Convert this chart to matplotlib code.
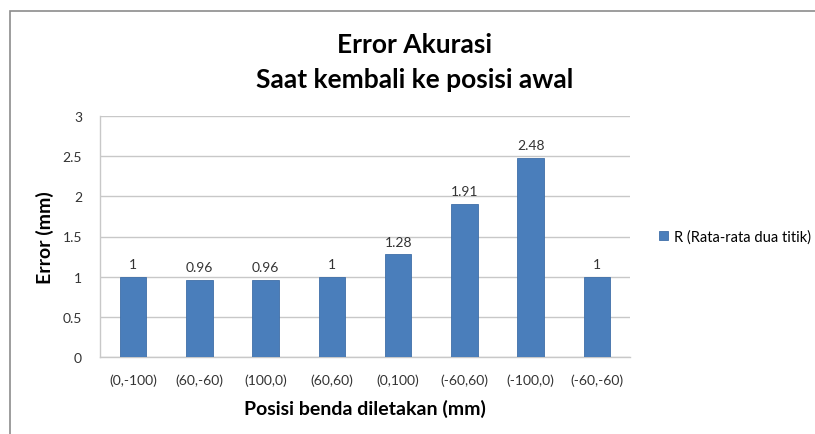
import matplotlib.pyplot as plt
from matplotlib.patches import Rectangle

positions = ['(0,-100)', '(60,-60)', '(100,0)', '(60,60)', '(0,100)', '(-60,60)', '(-100,0)', '(-60,-60)']
errors = [1, 0.96, 0.96, 1, 1.28, 1.91, 2.48, 1]
value_labels = ['1', '0.96', '0.96', '1', '1.28', '1.91', '2.48', '1']
series_name = 'R (Rata-rata dua titik)'

plt.rcParams['font.family'] = ['Lato', 'DejaVu Sans']

fig = plt.figure(figsize=(8.15, 4.35), dpi=100)
ax = fig.add_axes([100/815, 1 - 358/435, 530/815, 241/435])

# chart border like the spreadsheet frame
fig.patches.append(Rectangle((10/815, -0.01), 1.0, 1 - 12/435 + 0.01,
                             transform=fig.transFigure, fill=False,
                             edgecolor='#8c8c8c', linewidth=1.2))

x = range(len(positions))
bars = ax.bar(x, errors, width=0.4, color='#4a7ebb', edgecolor='#3f6fa8',
              linewidth=0.6, label=series_name, zorder=3)
for rect, lab in zip(bars, value_labels):
    ax.text(rect.get_x() + rect.get_width() / 2, rect.get_height() + 0.08, lab,
            ha='center', va='bottom', fontsize=10, color='#333333')

ax.set_xlim(-0.5, len(positions) - 0.5)
ax.set_ylim(0, 3)
ax.set_yticks([0, 0.5, 1, 1.5, 2, 2.5, 3])
ax.set_yticklabels(['0', '0.5', '1', '1.5', '2', '2.5', '3'])
ax.set_xticks(list(x))
ax.set_xticklabels(positions)
ax.tick_params(axis='both', length=0, labelsize=10, colors='#333333')
ax.tick_params(axis='y', pad=13)
ax.tick_params(axis='x', pad=12)
ax.yaxis.grid(True, color='#c8c8c8', linewidth=1.0, zorder=0)
ax.set_axisbelow(True)
for side in ['top', 'right']:
    ax.spines[side].set_visible(False)
for side in ['left', 'bottom']:
    ax.spines[side].set_color('#c8c8c8')
    ax.spines[side].set_linewidth(1.0)

ax.set_xlabel('Posisi benda diletakan (mm)', fontsize=14, fontweight='bold', labelpad=9)
ax.set_ylabel('Error (mm)', fontsize=14, fontweight='bold', labelpad=6)

fig.text(415 / 815, 1 - 45/435, 'Error Akurasi', ha='center', va='center',
         fontsize=19, fontweight='bold')
fig.text(415 / 815, 1 - 80/435, 'Saat kembali ke posisi awal', ha='center',
         va='center', fontsize=19, fontweight='bold')

ax.legend(loc='center left', bbox_to_anchor=(1.03, 0.5), frameon=False,
          fontsize=10.5, handlelength=0.6, handleheight=0.6, handletextpad=0.4)

fig.savefig('out.png', dpi=100)
